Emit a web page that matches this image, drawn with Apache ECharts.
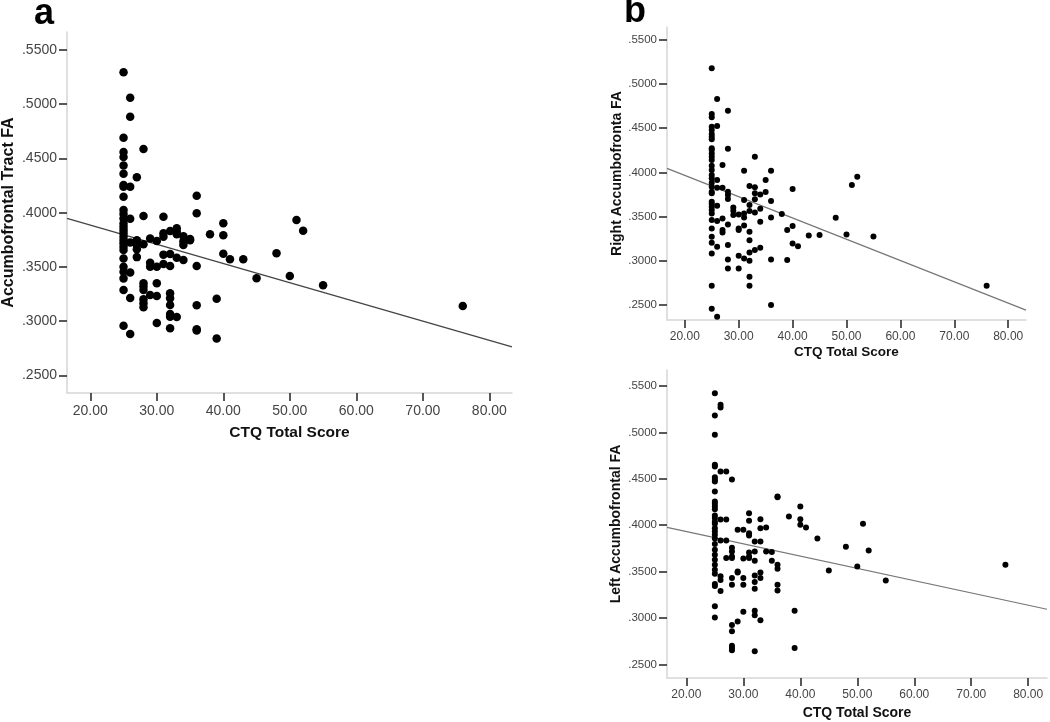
<!DOCTYPE html>
<html>
<head>
<meta charset="utf-8">
<title>CTQ vs accumbofrontal FA</title>
<script src="https://cdn.jsdelivr.net/npm/echarts@6/dist/echarts.min.js"></script>
<style>
  html, body { margin: 0; padding: 0; background: #fff; }
  #main { width: 1050px; height: 722px; }
</style>
</head>
<body>
<div id="main"></div>
<script>
// tick labels shared by all three panels
var xTicks = [20, 30, 40, 50, 60, 70, 80];
var yTicks = [0.25, 0.30, 0.35, 0.40, 0.45, 0.50, 0.55];

// panel a: accumbofrontal tract FA, grouped by CTQ score
var tractFA = [
  [25, [.5294, .4691, .4559, .4513, .4436, .4359, .4255, .4239, .4147, .4024, .3987, .3947, .3901, .3870, .3840, .3809, .3778, .3747, .3717, .3686, .3655, .3578, .3501, .3455, .3394, .3286, .2957]],
  [26, [.5060, .4885, .4239, .3944, .3726, .3449, .3212, .2880]],
  [27, [.4326, .3745, .3705, .3662, .3590]],
  [28, [.4587, .3970, .3708, .3349, .3318, .3287, .3201, .3164, .3127]],
  [29, [.3761, .3539, .3502, .3241]],
  [30, [.3739, .3502, .3349, .3232, .2983]],
  [31, [.3963, .3810, .3779, .3613, .3527]],
  [32, [.3831, .3619, .3508, .3257, .3211, .3149, .3066, .3041, .2934]],
  [33, [.3856, .3825, .3800, .3585, .3038]],
  [34, [.3782, .3733, .3702, .3564]],
  [35, [.3758, .3745]],
  [36, [.4157, .3994, .3508, .3146, .2925, .2913]],
  [38, [.3801]],
  [39, [.3207, .2839]],
  [40, [.3902, .3791, .3622]],
  [41, [.3570]],
  [43, [.3570]],
  [45, [.3395]],
  [48, [.3625]],
  [50, [.3416]],
  [51, [.3933]],
  [52, [.3834]],
  [55, [.3330]],
  [76, [.3140]]
];

// panel b (top): right accumbofrontal FA
var rightFA = [
  [25, [.5179, .4661, .4623, .4517, .4480, .4434, .4404, .4374, .4272, .4253, .4215, .4177, .4139, .4075, .4026, .3969, .3932, .3882, .3837, .3780, .3762, .3667, .3641, .3610, .3573, .3535, .3459, .3365, .3270, .3202, .3081, .2715, .2454]],
  [26, [.4831, .4525, .3913, .3826, .3622, .3448, .3157, .2363]],
  [27, [.4083, .3826, .3478, .3346, .3319]],
  [28, [.4699, .4268, .3780, .3743, .3697, .3410, .3176, .3013, .2911]],
  [29, [.3603, .3565, .3516]],
  [30, [.3523, .3365, .3346, .3055, .2911]],
  [31, [.4019, .3686, .3535, .3489, .3399, .3025]],
  [32, [.3845, .3629, .3561, .3327, .3232, .3093, .2998, .2817, .2715]],
  [33, [.4177, .3830, .3762, .3694, .3546, .3119]],
  [34, [.3750, .3588, .3440, .3145]],
  [35, [.3913, .3777]],
  [36, [.4019, .3675, .3489, .3013, .2496]],
  [38, [.3527]],
  [39, [.3346, .3006]],
  [40, [.3811, .3391, .3195]],
  [41, [.3164]],
  [43, [.3285]],
  [45, [.3289]],
  [48, [.3486]],
  [50, [.3297]],
  [51, [.3856]],
  [52, [.3950]],
  [55, [.3274]],
  [76, [.2715]]
];

// panel b (bottom): left accumbofrontal FA
var leftFA = [
  [25, [.5421, .5181, .4973, .4650, .4632, .4517, .4488, .4470, .4363, .4255, .4230, .4201, .4172, .4104, .4076, .4036, .4015, .3968, .3932, .3896, .3857, .3796, .3735, .3681, .3627, .3573, .3519, .3476, .3365, .3344, .3125, .3006]],
  [26, [.5297, .5267, .4578, .4062, .3835, .3450, .3410, .3290]],
  [27, [.4578, .4062, .3835, .3645]],
  [28, [.4492, .3757, .3717, .3663, .3645, .3430, .3358, .2924, .2856, .2701, .2676, .2651]],
  [29, [.3950, .3501, .3490, .2963]],
  [30, [.3950, .3641, .3430, .3358, .3068]],
  [31, [.4129, .4047, .3914, .3889, .3706, .3663, .3645]],
  [32, [.3824, .3717, .3616, .3458, .3387, .3315, .3078, .3028, .2640]],
  [33, [.4065, .3968, .3824, .3490, .3430, .2974]],
  [34, [.3975, .3717]],
  [35, [.3710, .3616]],
  [36, [.4309, .4300, .3573, .3530, .3358, .3297]],
  [38, [.4093]],
  [39, [.3078, .2676]],
  [40, [.4201, .4065, .4004]],
  [41, [.3975]],
  [43, [.3857]],
  [45, [.3512]],
  [48, [.3767]],
  [50, [.3555]],
  [51, [.4015]],
  [52, [.3728]],
  [55, [.3405]],
  [76, [.3573]]
];

// fit line end points [CTQ, FA]
var fitTract = [[16.5, .3947], [83.4, .2763]];
var fitRight = [[16.7, .4045], [83.3, .2439]];
var fitLeft = [[16.6, .3977], [83.3, .3094]];

function flat(groups) {
  var out = [];
  groups.forEach(function (g) {
    g[1].forEach(function (v) { out.push([g[0], v]); });
  });
  return out;
}

var font = 'Arial, "Liberation Sans", Helvetica, sans-serif';

function xAx(idx, min, max, fs, nameFs, gap) {
  return {
    type: 'value', gridIndex: idx, min: min, max: max,
    name: 'CTQ Total Score', nameLocation: 'middle', nameGap: gap,
    nameTextStyle: { fontFamily: font, fontSize: nameFs, fontWeight: 'bold', color: '#111' },
    axisLine: { show: true, lineStyle: { color: '#d6d6d6', width: 1.5 } },
    axisTick: { show: true, customValues: xTicks, length: 8, lineStyle: { color: '#222', width: 1.5 } },
    axisLabel: { show: true, customValues: xTicks, fontFamily: font, fontSize: fs, color: '#444', margin: 11,
      formatter: function (v) { return v.toFixed(2); } },
    splitLine: { show: false }
  };
}

function yAx(idx, min, max, name, fs, nameFs, gap) {
  return {
    type: 'value', gridIndex: idx, min: min, max: max,
    name: name, nameLocation: 'middle', nameGap: gap,
    nameTextStyle: { fontFamily: font, fontSize: nameFs, fontWeight: 'bold', color: '#111' },
    axisLine: { show: true, lineStyle: { color: '#d6d6d6', width: 1.5 } },
    axisTick: { show: true, customValues: yTicks, length: 8, lineStyle: { color: '#222', width: 1.5 } },
    axisLabel: { show: true, customValues: yTicks, fontFamily: font, fontSize: fs, color: '#444', margin: 10,
      formatter: function (v) { return v.toFixed(4).replace(/^0/, ''); } },
    splitLine: { show: false }
  };
}

function dots(idx, data, size) {
  return {
    type: 'scatter', xAxisIndex: idx, yAxisIndex: idx, data: flat(data),
    symbolSize: size, itemStyle: { color: '#000', opacity: 1 }, silent: true
  };
}

function fit(idx, data, color, w) {
  return {
    type: 'line', xAxisIndex: idx, yAxisIndex: idx, data: data,
    showSymbol: false, lineStyle: { color: color, width: w }, silent: true, z: 1
  };
}

var chart = echarts.init(document.getElementById('main'));
chart.setOption({
  animation: false,
  backgroundColor: '#fff',
  grid: [
    { left: 67, top: 32, width: 445, height: 361 },
    { left: 667, top: 27, width: 359, height: 293 },
    { left: 667, top: 370, width: 380, height: 308 }
  ],
  xAxis: [
    xAx(0, 16.5, 83.4, 14, 15.5, 32),
    xAx(1, 16.7, 83.3, 12, 13.5, 25),
    xAx(2, 16.6, 83.3, 12, 14, 28)
  ],
  yAxis: [
    yAx(0, 0.2337, 0.5666, 'Accumbofrontal Tract FA', 14, 16, 50),
    yAx(1, 0.2327, 0.5647, 'Right Accumbofronta FA', 11.5, 14, 42),
    yAx(2, 0.2353, 0.5672, 'Left Accumbofrontal FA', 11.5, 14, 44)
  ],
  graphic: [
    { type: 'text', left: 34, top: -4, style: { text: 'a', font: 'bold 36px ' + font, fill: '#000' } },
    { type: 'text', left: 624, top: -6, style: { text: 'b', font: 'bold 36px ' + font, fill: '#000' } }
  ],
  series: [
    fit(0, fitTract, '#444', 1.3),
    dots(0, tractFA, 8.5),
    fit(1, fitRight, '#777', 1.2),
    dots(1, rightFA, 6),
    fit(2, fitLeft, '#777', 1.2),
    dots(2, leftFA, 6)
  ]
});
</script>
</body>
</html>
